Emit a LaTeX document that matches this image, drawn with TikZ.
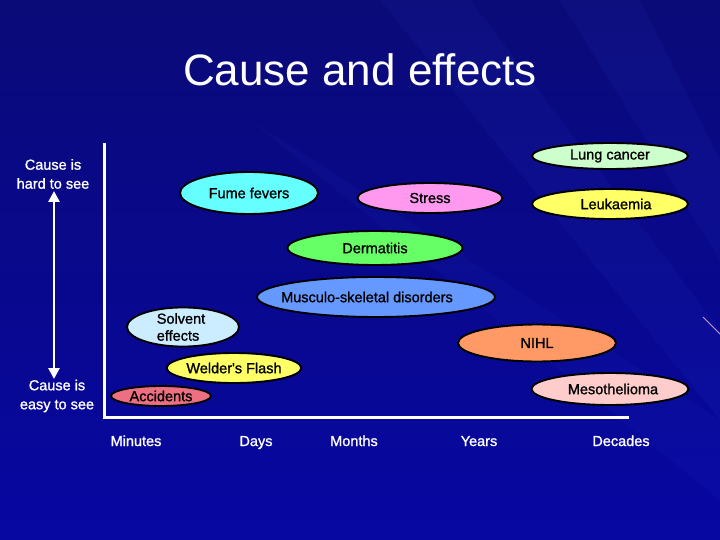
\documentclass[tikz,border=0pt]{standalone}
\usepackage{fontspec}
\setmainfont{Liberation Sans}
\usetikzlibrary{shapes.geometric,arrows.meta}
\definecolor{bgtop}{HTML}{0A0A78}
\definecolor{bgbot}{HTML}{0707A2}
\definecolor{streak}{HTML}{4060FF}
\definecolor{clung}{HTML}{CCFFCC}
\definecolor{cfume}{HTML}{66FFFF}
\definecolor{cstress}{HTML}{FF99F0}
\definecolor{cleuk}{HTML}{FFFF66}
\definecolor{cderm}{HTML}{66FF66}
\definecolor{cmusc}{HTML}{6699FF}
\definecolor{csolv}{HTML}{CCECFF}
\definecolor{cnihl}{HTML}{FF9966}
\definecolor{cweld}{HTML}{FFFF66}
\definecolor{cmeso}{HTML}{FFCCCC}
\definecolor{cacc}{HTML}{EE6E82}
\newfontfamily\labelfont[FakeBold=1.2]{Liberation Sans}
\tikzset{
  disease/.style={ellipse, draw=black, line width=1.9pt, inner sep=0pt,
    font=\labelfont\fontsize{14.5}{17}\selectfont, text=black},
  whitetext/.style={text=white, font=\labelfont\fontsize{14.5}{19}\selectfont, inner sep=0pt},
  timetext/.style={whitetext, anchor=base},
  axisline/.style={draw=white, line width=3pt},
  bigarrow/.style={draw=white, line width=2.6pt,
    {Triangle[width=11pt,length=11pt]}-{Triangle[width=11pt,length=11pt]}}
}
\begin{document}
\begin{tikzpicture}[x=1pt,y=-1pt]
\useasboundingbox (0,0) rectangle (720,540);
% background
\shade[top color=bgtop, bottom color=bgbot] (0,0) rectangle (720,540);
\fill[streak, opacity=0.06] (380,0) -- (470,0) -- (720,330) -- (720,420) -- cycle;
\fill[streak, opacity=0.06] (560,0) -- (640,0) -- (720,160) -- (720,260) -- cycle;
\fill[streak, opacity=0.05] (250,120) -- (720,420) -- (720,500) -- cycle;
\draw[color=violet!40!white, line width=0.8pt] (703,317) -- (720,334);

% title
\node[text=white, font=\fontsize{44}{52}\selectfont, inner sep=0pt] (title) at (360,70) {Cause and effects};

% axes
\coordinate (ytop) at (104,143);
\coordinate (origin) at (104,417);
\coordinate (xend) at (629,417);
\draw[axisline] (ytop) -- (origin) -- (xend);

% arrow
\coordinate (atop) at (54,191);
\coordinate (abot) at (54,379);
\draw[bigarrow] (atop) -- (abot);
\node[whitetext, align=center] (hard) at (53,174) {Cause is\\hard to see};
\node[whitetext, align=center] (easy) at (57,396) {Cause is\\easy to see};

% time labels
\node[timetext] (min) at (136,446) {Minutes};
\node[timetext] (days) at (256,446) {Days};
\node[timetext] (months) at (354,446) {Months};
\node[timetext] (years) at (479,446) {Years};
\node[timetext] (decades) at (621,446) {Decades};

% diseases
\node[disease, fill=clung, minimum width=156pt, minimum height=26pt] (lung) at (610,156) {Lung cancer};
\node[disease, fill=cfume, minimum width=138pt, minimum height=42pt] (fume) at (249,193) {Fume fevers};
\node[disease, fill=cstress, minimum width=145pt, minimum height=30pt] (stress) at (430,198) {Stress};
\node[disease, fill=cleuk, minimum width=156pt, minimum height=30pt] (leuk) at (610,204) {Leukaemia\hspace*{-12pt}};
\node[disease, fill=cderm, minimum width=175pt, minimum height=34pt] (derm) at (375,248) {Dermatitis};
\node[disease, fill=cmusc, minimum width=238pt, minimum height=40pt] (musc) at (376,297) {\hspace*{-18pt}Musculo-skeletal disorders};
\node[disease, fill=csolv, minimum width=112pt, minimum height=36pt, align=left] (solv) at (183,327) {\hspace*{-4pt}Solvent\\\hspace*{-4pt}effects};
\node[disease, fill=cnihl, minimum width=158pt, minimum height=37pt] (nihl) at (537,343) {NIHL};
\node[disease, fill=cweld, minimum width=132pt, minimum height=30pt] (weld) at (234,368) {Welder's Flash};
\node[disease, fill=cmeso, minimum width=157pt, minimum height=32pt] (meso) at (610,389) {Mesothelioma\hspace*{-6pt}};
\node[disease, fill=cacc, minimum width=100pt, minimum height=20pt] (acc) at (161,396) {Accidents};
\end{tikzpicture}
\end{document}
